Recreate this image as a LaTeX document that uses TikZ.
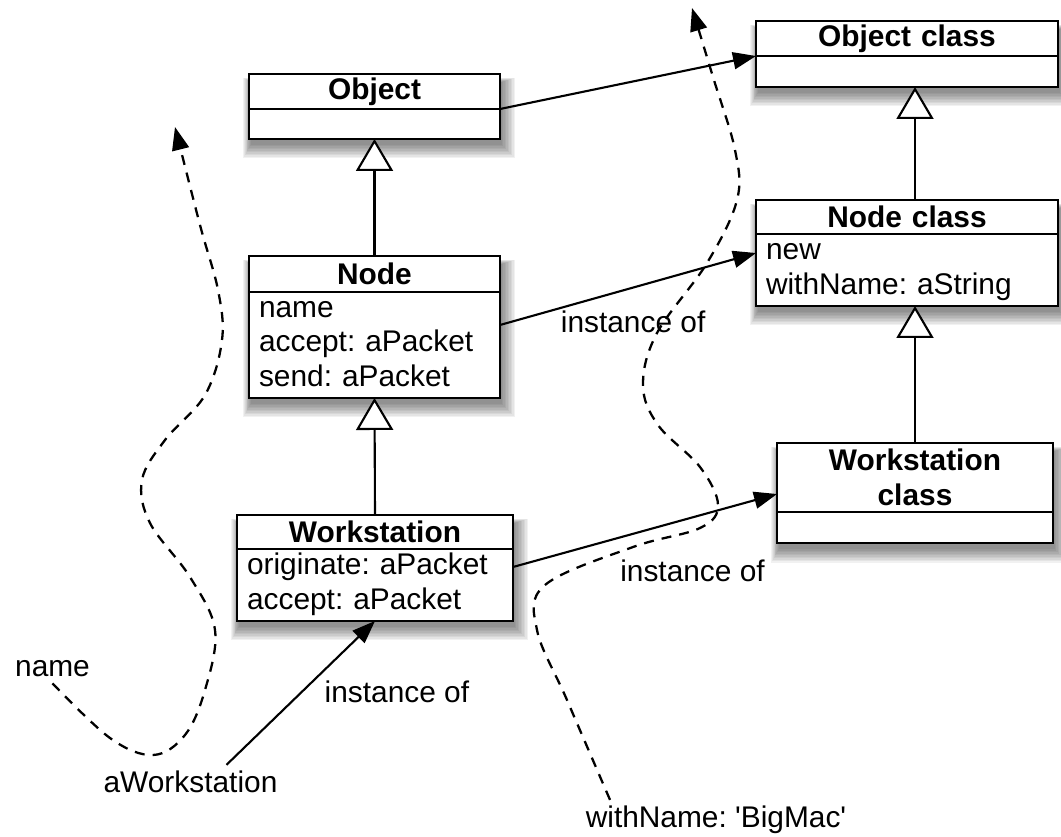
\documentclass[tikz,border=0pt]{standalone}
\usepackage{fontspec}
\setmainfont{Liberation Sans}
\usetikzlibrary{arrows.meta,backgrounds}

\begin{document}
\frenchspacing
\begin{tikzpicture}[x=0.02cm, y=-0.02cm, font=\fontsize{17}{19.6}\selectfont,
    classtitle/.style={draw, fill=white, line width=1.4pt, align=center, inner sep=0pt, outer sep=0pt, execute at begin node=\bfseries},
    classempty/.style={draw, fill=white, line width=1.4pt, inner sep=0pt, outer sep=0pt, anchor=north},
    classbody/.style={classempty, align=left, inner xsep=0.2cm, execute at begin node=\strut, execute at end node=\strut},
    inherit/.style={line width=1.2pt, -{Triangle[open, length=0.64cm, width=0.74cm, fill=white]}},
    instof/.style={line width=1.2pt, -{Triangle[length=0.46cm, width=0.34cm]}},
    msgflow/.style={line width=1.3pt, dash pattern=on 0.2cm off 0.16cm, -{Triangle[length=0.46cm, width=0.34cm]}}]
    \useasboundingbox (0, 0) rectangle (1061, 836);

    % instance side
    \node[classtitle, text width=5.02cm, minimum height=0.7cm] (obj) at (374.5, 91.5) {Object};
    \node[classempty, minimum width=5.02cm, minimum height=0.6cm] (objb) at (obj.south) {};
    \node[classtitle, text width=5.02cm, minimum height=0.72cm] (node) at (374.5, 274) {Node};
    \node[classbody, text width=4.62cm, minimum height=2.12cm] (nodeb) at (node.south) {name\\accept: aPacket\\send: aPacket};
    \node[classtitle, text width=5.52cm, minimum height=0.68cm] (ws) at (375, 532) {Workstation};
    \node[classbody, text width=5.12cm, minimum height=1.44cm] (wsb) at (ws.south) {originate: aPacket\\accept: aPacket};

    % class side
    \node[classtitle, text width=6.04cm, minimum height=0.7cm] (objc) at (907, 38.5) {Object class};
    \node[classempty, minimum width=6.04cm, minimum height=0.62cm] (objcb) at (objc.south) {};
    \node[classtitle, text width=6.04cm, minimum height=0.68cm] (nodec) at (907, 217) {Node class};
    \node[classbody, text width=5.64cm, minimum height=1.44cm] (nodecb) at (nodec.south) {new\\withName: aString};
    \node[classtitle, text width=5.52cm, minimum height=1.38cm] (wsc) at (915, 477.5) {Workstation\\class};
    \node[classempty, minimum width=5.52cm, minimum height=0.62cm] (wscb) at (wsc.south) {};

    % soft shadows
    \begin{scope}[on background layer]
        \foreach \top/\bot in {obj/objb, node/nodeb, ws/wsb, objc/objcb, nodec/nodecb, wsc/wscb}
            \foreach \e in {0,1.5,...,13.5}
                \fill[black, opacity=0.055] ([shift={(2-0.6*\e, 8-0.3*\e)}]\top.north west) rectangle ([shift={(2+\e, 6+\e)}]\bot.south east);
    \end{scope}

    % free texts
    \node (nm) at (52.5, 669) {name};
    \node (aws) at (190.5, 782) {aWorkstation};
    \node (wn) at (716, 820) {withName: \textquotesingle BigMac\textquotesingle};
    \coordinate (toname) at (175, 127);
    \coordinate (town) at (692, 8);

    \draw[inherit] (node.north) -- (objb.south);
    \draw[inherit] (ws.north) -- (nodeb.south);
    \draw[inherit] (nodec.north -| wsc.north) -- (objcb.south -| wsc.north);
    \draw[inherit] (wsc.north) -- (nodecb.south -| wsc.north);

    \draw[instof] (objb.north east) -- (objcb.north west);
    \draw[instof] ([yshift=0.4cm]nodeb.east) -- node[pos=0.52, below=0.33cm] (inst1) {instance of} ([yshift=-0.38cm]nodecb.north west);
    \draw[instof] ([yshift=0.36cm]wsb.east) -- node[pos=0.68, below=0.72cm] (inst2) {instance of} ([yshift=-0.33cm]wsc.west);
    \draw[instof] ([xshift=0.72cm]aws.north) -- node[pos=0.507, right=0.32cm] (inst3) {instance of} (wsb.south);

    \draw[msgflow] plot[smooth, tension=0.6] coordinates {(nm.south) (110, 738) (153, 755) (185, 735) (205, 690) (215, 630) (190, 577) (150, 523) (142, 480) (165, 440) (205, 395) (222, 340) (218, 290) (200, 225) (toname)};
    \draw[msgflow] plot[smooth, tension=0.6] coordinates {([xshift=-2.12cm]wn.north) (567, 700) (537, 630) (545, 585) (633, 547) (700, 528) (718, 505) (700, 467) (658, 425) (643, 385) (657, 333) (707, 263) (737, 200) (735, 150) (713, 77) (town)};
\end{tikzpicture}
\end{document}
